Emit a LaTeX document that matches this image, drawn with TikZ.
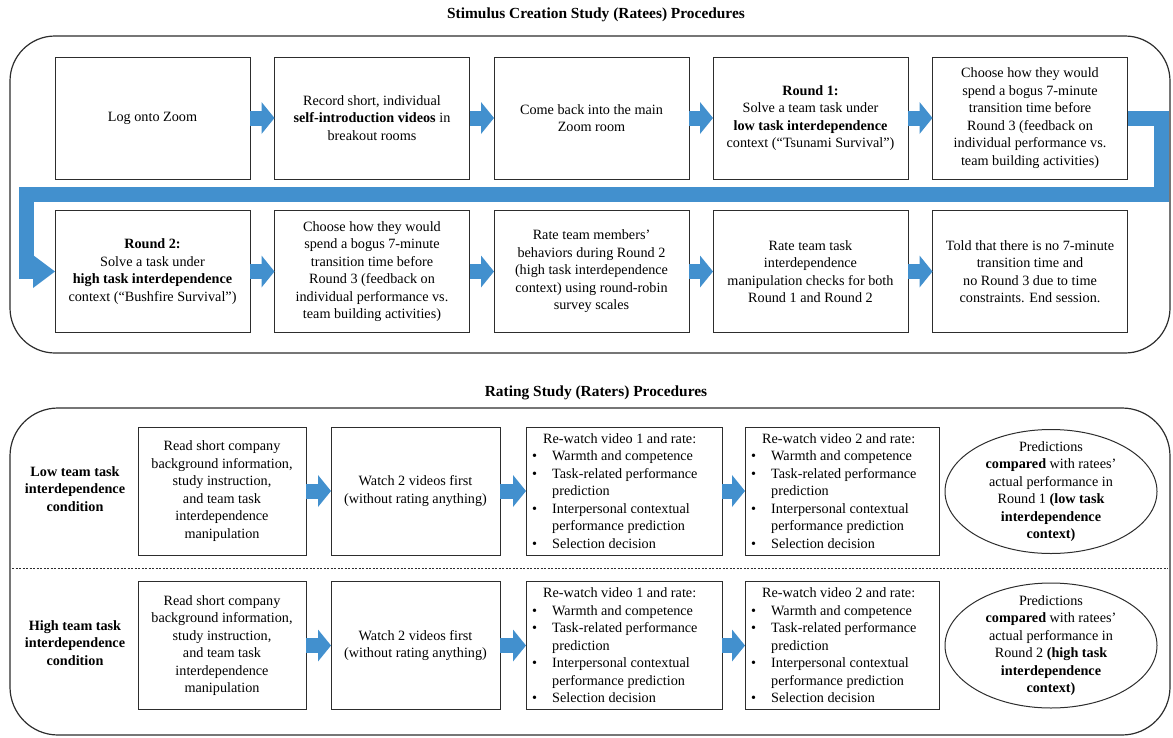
\documentclass[tikz,border=0pt]{standalone}
\usepackage{fontspec}
\setmainfont{Liberation Serif}
\usetikzlibrary{arrows.meta,shapes.geometric,calc}
\definecolor{arrowblue}{RGB}{66,144,206}
\definecolor{lineg}{RGB}{45,45,45}
\newcommand{\bul}{\makebox[20pt][l]{\textbullet}}
\newcommand{\cont}{\hspace*{20pt}}
\newcommand{\hdr}{\hspace*{11pt}}
\begin{document}
\begin{tikzpicture}[x=1pt,y=-1pt,font=\fontsize{14.2}{17.5}\selectfont,
  box/.style={draw=lineg,line width=1pt,minimum width=195pt,minimum height=122pt,align=center,inner sep=0pt,outer sep=0pt},
  bbox/.style={box,minimum height=128pt},
  frame/.style={draw=lineg,line width=1.2pt,rounded corners=45pt},
  blk/.style={draw=arrowblue,line width=15pt,-{Triangle[length=13pt,width=32pt,line width=0pt]}},
  bar/.style={draw=arrowblue,line width=15pt,line join=miter,-{Triangle[length=22pt,width=33pt,line width=0pt]}},
  lab/.style={align=center,font=\fontsize{14.2}{17.5}\selectfont\bfseries},
  ttl/.style={font=\fontsize{15.4}{18}\selectfont\bfseries},
  lst/.style={align=left,anchor=west,inner sep=0pt},
  ell/.style={draw=lineg,line width=1pt,ellipse,minimum width=212pt,minimum height=124pt,inner sep=0pt,outer sep=0pt}]
\useasboundingbox (0,0) rectangle (1173,737);

% ---------- Stimulus creation study ----------
\node[ttl] (t1) at (596,15) {Stimulus Creation Study (Ratees) Procedures};
\draw[frame] (10,36) rectangle (1170,353);

\node[box] (b1) at (152.5,118) {Log onto Zoom};
\node[box] (b2) at (372,118) {Record short, individual\\\textbf{self-introduction videos} in\\breakout rooms};
\node[box] (b3) at (591.5,118) {Come back into the main\\Zoom room};
\node[box] (b4) at (810.5,118) {\textbf{Round 1:}\\Solve a team task under\\\textbf{low task interdependence}\\context (“Tsunami Survival”)};
\node[box] (b5) at (1030,118) {Choose how they would\\spend a bogus 7-minute\\transition time before\\Round 3 (feedback on\\individual performance vs.\\team building activities)};

\node[box] (b6) at (152.5,271.5) {\textbf{Round 2:}\\Solve a task under\\\textbf{high task interdependence}\\context (“Bushfire Survival”)};
\node[box] (b7) at (372,271.5) {Choose how they would\\spend a bogus 7-minute\\transition time before\\Round 3 (feedback on\\individual performance vs.\\team building activities)};
\node[box] (b8) at (591.5,271.5) {Rate team members’\\behaviors during Round 2\\(high task interdependence\\context) using round-robin\\survey scales};
\node[box] (b9) at (810.5,271.5) {Rate team task\\interdependence\\manipulation checks for both\\Round 1 and Round 2};
\node[box] (b10) at (1030,271.5) {Told that there is no 7-minute\\transition time and\\no Round 3 due to time\\constraints. End session.};

\draw[blk] (b1.east) -- (b2.west);
\draw[blk] (b2.east) -- (b3.west);
\draw[blk] (b3.east) -- (b4.west);
\draw[blk] (b4.east) -- (b5.west);
\draw[blk] (b6.east) -- (b7.west);
\draw[blk] (b7.east) -- (b8.west);
\draw[blk] (b8.east) -- (b9.west);
\draw[blk] (b9.east) -- (b10.west);

\coordinate (tr) at (1161,118);
\coordinate (tl) at (26,194.5);
\draw[bar] (b5.east) -- (tr) -- (tr |- tl) -- (tl) -- (tl |- b6.west) -- (b6.west);

% ---------- Rating study ----------
\node[ttl] (t2) at (596,393) {Rating Study (Raters) Procedures};
\draw[frame,rounded corners=48pt] (10,408) rectangle (1170,735);
\draw[lineg,line width=0.6pt,dash pattern=on 2pt off 1.5pt] (12,568) -- (1168,568);

\node[lab] (l1) at (75,489) {Low team task\\interdependence\\condition};
\node[lab] (l2) at (75,643) {High team task\\interdependence\\condition};

\node[bbox,minimum width=168pt] (a1) at (222,491) {Read short company\\background information,\\study instruction,\\and team task\\interdependence\\manipulation};
\node[bbox,minimum width=169pt] (a2) at (415.5,491) {Watch 2 videos first\\(without rating anything)};
\node[bbox,minimum width=196pt] (a3) at (624,491) {};
\node[bbox,minimum width=194pt] (a4) at (842,491) {};
\node[ell] (e1) at (1051,491.5) {};

\node[lst] (a3t) at ($(a3.west)+(6,0)$) {\hdr Re-watch video 1 and rate:\\\bul Warmth and competence\\\bul Task-related performance\\\cont prediction\\\bul Interpersonal contextual\\\cont performance prediction\\\bul Selection decision};
\node[lst] (a4t) at ($(a4.west)+(6,0)$) {\hdr Re-watch video 2 and rate:\\\bul Warmth and competence\\\bul Task-related performance\\\cont prediction\\\bul Interpersonal contextual\\\cont performance prediction\\\bul Selection decision};
\node[align=center] (e1t) at (e1) {Predictions\\\textbf{compared} with ratees’\\actual performance in\\Round 1 \textbf{(low task}\\\textbf{interdependence}\\\textbf{context)}};

\node[bbox,minimum width=168pt] (c1) at (222,645.5) {Read short company\\background information,\\study instruction,\\and team task\\interdependence\\manipulation};
\node[bbox,minimum width=169pt] (c2) at (415.5,645.5) {Watch 2 videos first\\(without rating anything)};
\node[bbox,minimum width=196pt] (c3) at (624,645.5) {};
\node[bbox,minimum width=194pt] (c4) at (842,645.5) {};
\node[ell,minimum height=125pt] (e2) at (1051,645.5) {};

\node[lst] (c3t) at ($(c3.west)+(6,0)$) {\hdr Re-watch video 1 and rate:\\\bul Warmth and competence\\\bul Task-related performance\\\cont prediction\\\bul Interpersonal contextual\\\cont performance prediction\\\bul Selection decision};
\node[lst] (c4t) at ($(c4.west)+(6,0)$) {\hdr Re-watch video 2 and rate:\\\bul Warmth and competence\\\bul Task-related performance\\\cont prediction\\\bul Interpersonal contextual\\\cont performance prediction\\\bul Selection decision};
\node[align=center] (e2t) at (e2) {Predictions\\\textbf{compared} with ratees’\\actual performance in\\Round 2 \textbf{(high task}\\\textbf{interdependence}\\\textbf{context)}};

\draw[blk] (a1.east) -- (a2.west);
\draw[blk] (a2.east) -- (a3.west);
\draw[blk] (a3.east) -- (a4.west);
\draw[blk] (c1.east) -- (c2.west);
\draw[blk] (c2.east) -- (c3.west);
\draw[blk] (c3.east) -- (c4.west);
\end{tikzpicture}
\end{document}
